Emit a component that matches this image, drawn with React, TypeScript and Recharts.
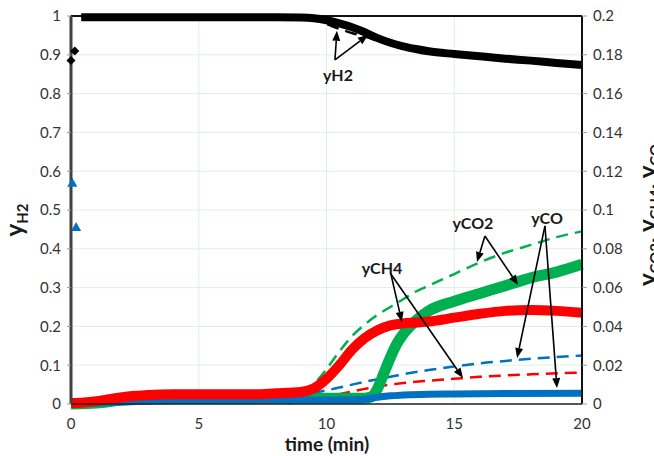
import React from 'react';
import {
  ComposedChart,
  Line,
  XAxis,
  YAxis,
  CartesianGrid,
  ReferenceLine,
  ReferenceDot,
} from 'recharts';

// ---------- tick labels ----------
const xTicks = [0, 5, 10, 15, 20];
const leftTicks = [0, 0.1, 0.2, 0.3, 0.4, 0.5, 0.6, 0.7, 0.8, 0.9, 1];
const rightTicks = [0, 0.02, 0.04, 0.06, 0.08, 0.1, 0.12, 0.14, 0.16, 0.18, 0.2];

// ---------- yH2 (left axis) ----------
const h2Time = [0.4, 1, 2, 3, 4, 5, 6, 7, 8, 9, 9.5, 10, 10.5, 11, 11.5, 12, 12.5, 13, 13.5, 14, 15, 16, 17, 18, 19, 20];
const h2Data = [0.997, 0.997, 0.997, 0.997, 0.997, 0.997, 0.997, 0.997, 0.997, 0.996, 0.994, 0.989, 0.981, 0.971, 0.958, 0.943, 0.931, 0.922, 0.915, 0.909, 0.902, 0.896, 0.89, 0.885, 0.879, 0.874];
const h2OutTime = [0, 0.15];
const h2OutData = [0.885, 0.91];
const h2ModelTime = [0.4, 5, 9, 9.5, 10, 10.5, 11, 11.5, 12, 12.5, 13, 14, 15, 16, 17, 18, 19, 20];
const h2Model = [0.998, 0.998, 0.995, 0.99, 0.979, 0.967, 0.956, 0.947, 0.937, 0.928, 0.92, 0.91, 0.902, 0.896, 0.89, 0.885, 0.879, 0.874];

// ---------- yCO2 (right axis) ----------
const co2Time = [0, 1, 2, 3, 5, 8, 10, 11, 11.5, 11.8, 12, 12.25, 12.5, 12.75, 13, 13.5, 14, 15, 16, 17, 18, 19, 20];
const co2Data = [0, 0.0005, 0.002, 0.003, 0.003, 0.003, 0.003, 0.003, 0.003, 0.004, 0.008, 0.016, 0.024, 0.031, 0.036, 0.043, 0.048, 0.053, 0.057, 0.061, 0.065, 0.068, 0.072];
const co2ModelTime = [8.5, 9, 9.5, 10, 10.5, 11, 11.5, 12, 12.5, 13, 13.5, 14, 15, 16, 17, 18, 19, 20];
const co2Model = [0, 0.004, 0.01, 0.018, 0.027, 0.035, 0.041, 0.046, 0.05, 0.054, 0.058, 0.061, 0.067, 0.073, 0.078, 0.082, 0.086, 0.089];

// ---------- yCH4 (right axis) ----------
const ch4Time = [0, 0.5, 1, 1.5, 2, 2.5, 3, 4, 5, 6, 7, 8, 9, 9.5, 10, 10.5, 11, 11.5, 12, 12.5, 13, 13.5, 14, 15, 16, 17, 18, 19, 20];
const ch4Data = [0.0005, 0.0008, 0.0015, 0.0025, 0.0035, 0.0042, 0.0047, 0.005, 0.005, 0.005, 0.005, 0.0055, 0.0062, 0.008, 0.013, 0.02, 0.028, 0.034, 0.038, 0.0405, 0.0415, 0.042, 0.0425, 0.0445, 0.0465, 0.048, 0.0485, 0.048, 0.047];
const ch4ModelTime = [9, 9.5, 10, 10.5, 11, 11.5, 12, 13, 14, 15, 16, 17, 18, 19, 20];
const ch4Model = [0.001, 0.002, 0.0035, 0.005, 0.0065, 0.0078, 0.009, 0.0108, 0.012, 0.013, 0.014, 0.0147, 0.0153, 0.0158, 0.0162];

// ---------- yCO (right axis) ----------
const coTime = [0, 1, 2, 3, 5, 8, 10, 11, 11.5, 12, 12.5, 13, 14, 15, 17, 20];
const coData = [0, 0.0005, 0.001, 0.0015, 0.0018, 0.002, 0.002, 0.0022, 0.0025, 0.0035, 0.0042, 0.0047, 0.005, 0.0052, 0.0054, 0.0055];
const coOutTime = [0.05, 0.2];
const coOutData = [0.114, 0.0912];
const coModelTime = [8, 8.5, 9, 9.5, 10, 10.5, 11, 11.5, 12, 12.5, 13, 13.5, 14, 15, 16, 17, 18, 19, 20];
const coModel = [0.002, 0.003, 0.004, 0.0057, 0.007, 0.0085, 0.01, 0.0115, 0.0128, 0.014, 0.0153, 0.0165, 0.0175, 0.0193, 0.021, 0.0222, 0.0233, 0.0242, 0.025];

// ---------- annotations (data coordinates) ----------
const noteLabels = [
  { text: 'yH2', t: 10.45, v: 0.85, axis: 'left' },
  { text: 'yCO2', t: 15.73, v: 0.0933, axis: 'right' },
  { text: 'yCO', t: 18.63, v: 0.0959, axis: 'right' },
  { text: 'yCH4', t: 12.17, v: 0.0706, axis: 'right' },
];
const noteArrows = [
  { axis: 'left', t1: 10.33, v1: 0.887, t2: 10.41, v2: 0.962 },
  { axis: 'left', t1: 10.33, v1: 0.887, t2: 11.62, v2: 0.951 },
  { axis: 'right', t1: 16.2, v1: 0.0866, t2: 15.89, v2: 0.0732 },
  { axis: 'right', t1: 16.2, v1: 0.0866, t2: 17.5, v2: 0.0613 },
  { axis: 'right', t1: 18.55, v1: 0.0918, t2: 17.46, v2: 0.0237 },
  { axis: 'right', t1: 18.55, v1: 0.0918, t2: 19.02, v2: 0.0082 },
  { axis: 'right', t1: 12.52, v1: 0.067, t2: 12.95, v2: 0.0423 },
  { axis: 'right', t1: 12.52, v1: 0.067, t2: 15.34, v2: 0.0134 },
];

const zip = (t: number[], v: number[]) => t.map((x, i) => ({ t: x, v: v[i] }));

const FONT = 'Lato, "Open Sans", sans-serif';

const Diamond = (p: any) => {
  const { cx, cy } = p;
  if (cx == null || cy == null) return null;
  const s = 4.5;
  return <polygon key={`d${cx}-${cy}`} points={`${cx},${cy - s} ${cx + s},${cy} ${cx},${cy + s} ${cx - s},${cy}`} fill="#000" />;
};

const Triangle = (p: any) => {
  const { cx, cy } = p;
  if (cx == null || cy == null) return null;
  const s = 5;
  return <polygon key={`tr${cx}-${cy}`} points={`${cx},${cy - s} ${cx + s},${cy + s * 0.8} ${cx - s},${cy + s * 0.8}`} fill="#0070c0" />;
};

const ArrowShape = (p: any) => {
  const { x1, y1, x2, y2 } = p;
  if ([x1, y1, x2, y2].some((n) => n == null || isNaN(n))) return null;
  const ang = Math.atan2(y2 - y1, x2 - x1);
  const L = 10;
  const W = 4;
  const bx = x2 - L * Math.cos(ang);
  const by = y2 - L * Math.sin(ang);
  const px = -Math.sin(ang) * W;
  const py = Math.cos(ang) * W;
  return (
    <g>
      <line x1={x1} y1={y1} x2={bx} y2={by} stroke="#000" strokeWidth={1.6} />
      <polygon points={`${x2},${y2} ${bx + px},${by + py} ${bx - px},${by - py}`} fill="#000" />
    </g>
  );
};

const makeLabelShape = (text: string) => (p: any) => {
  const { cx, cy } = p;
  return (
    <text x={cx} y={cy} textAnchor="middle" dominantBaseline="central" fontFamily={FONT} fontSize={16} fontWeight={700} fill="#1a1a1a">
      {text}
    </text>
  );
};

const LeftTitle = () => (
  <text transform="translate(23,220) rotate(-90)" textAnchor="middle" fontFamily={FONT} fontWeight={700} fill="#1a1a1a">
    <tspan fontSize={24}>y</tspan>
    <tspan fontSize={15} dy={5}>H2</tspan>
  </text>
);

const RightTitle = () => (
  <text transform="translate(656,215) rotate(-90)" textAnchor="middle" fontFamily={FONT} fontWeight={700} fill="#1a1a1a">
    <tspan fontSize={24}>y</tspan>
    <tspan fontSize={15} dy={5}>CO2</tspan>
    <tspan fontSize={24} dy={-5}>, y</tspan>
    <tspan fontSize={15} dy={5}>CH4</tspan>
    <tspan fontSize={24} dy={-5}>, y</tspan>
    <tspan fontSize={15} dy={5}>CO</tspan>
  </text>
);

const XTitle = () => (
  <text x={327} y={451} textAnchor="middle" fontFamily={FONT} fontSize={19} fontWeight={700} fill="#1a1a1a">
    time (min)
  </text>
);

const tickStyle = { fontSize: 15, fill: '#333', fontFamily: FONT };

export default function App() {
  return (
    <div style={{ position: 'absolute', left: 0, top: 0, width: 654, height: 456, background: '#fff' }}>
      <ComposedChart width={654} height={456} margin={{ top: 16, right: 0, bottom: 0, left: 0 }} style={{ fontFamily: FONT }}>
        <CartesianGrid yAxisId="left" stroke="#dcefe8" strokeWidth={1} />
        <XAxis
          type="number"
          dataKey="t"
          domain={[0, 20]}
          ticks={xTicks}
          height={52}
          tick={tickStyle}
          tickLine={false}
          axisLine={{ stroke: '#222', strokeWidth: 1.5 }}
          tickMargin={8}
          label={<XTitle />}
        />
        <YAxis
          yAxisId="left"
          type="number"
          domain={[0, 1]}
          ticks={leftTicks}
          width={71}
          tick={tickStyle}
          tickSize={4}
          tickLine={{ stroke: '#999' }}
          axisLine={{ stroke: '#404040', strokeWidth: 3 }}
          tickMargin={6}
          label={<LeftTitle />}
        />
        <YAxis
          yAxisId="right"
          orientation="right"
          type="number"
          domain={[0, 0.2]}
          ticks={rightTicks}
          width={72}
          tick={tickStyle}
          tickSize={5}
          tickLine={{ stroke: '#999' }}
          axisLine={{ stroke: '#111', strokeWidth: 2 }}
          tickMargin={6}
          label={<RightTitle />}
        />
        <ReferenceLine yAxisId="left" y={1} stroke="#111" strokeWidth={2} />

        {/* model (dashed) curves */}
        <Line yAxisId="left" data={zip(h2ModelTime, h2Model)} dataKey="v" type="monotone" stroke="#000" strokeWidth={2.5} strokeDasharray="12 7" dot={false} isAnimationActive={false} />
        <Line yAxisId="right" data={zip(co2ModelTime, co2Model)} dataKey="v" type="monotone" stroke="#00b050" strokeWidth={2.5} strokeDasharray="12 7" dot={false} isAnimationActive={false} />
        <Line yAxisId="right" data={zip(coModelTime, coModel)} dataKey="v" type="monotone" stroke="#0070c0" strokeWidth={2.5} strokeDasharray="12 7" dot={false} isAnimationActive={false} />
        <Line yAxisId="right" data={zip(ch4ModelTime, ch4Model)} dataKey="v" type="monotone" stroke="#ff0000" strokeWidth={2.5} strokeDasharray="12 7" dot={false} isAnimationActive={false} />

        {/* experimental data (dense markers) */}
        <Line yAxisId="left" data={zip(h2Time, h2Data)} dataKey="v" type="monotone" stroke="#000" strokeWidth={8} dot={false} isAnimationActive={false} />
        <Line yAxisId="left" data={zip(h2OutTime, h2OutData)} dataKey="v" stroke="none" dot={<Diamond />} isAnimationActive={false} />
        <Line yAxisId="right" data={zip(co2Time, co2Data)} dataKey="v" type="monotone" stroke="#00b050" strokeWidth={11} dot={false} isAnimationActive={false} />
        <Line yAxisId="right" data={zip(coTime, coData)} dataKey="v" type="monotone" stroke="#0070c0" strokeWidth={7} dot={false} isAnimationActive={false} />
        <Line yAxisId="right" data={zip(coOutTime, coOutData)} dataKey="v" stroke="none" dot={<Triangle />} isAnimationActive={false} />
        <Line yAxisId="right" data={zip(ch4Time, ch4Data)} dataKey="v" type="monotone" stroke="#ff0000" strokeWidth={10} dot={false} isAnimationActive={false} />

        {/* annotations */}
        {noteArrows.map((a, i) => (
          <ReferenceLine
            key={`a${i}`}
            yAxisId={a.axis}
            segment={[{ x: a.t1, y: a.v1 }, { x: a.t2, y: a.v2 }]}
            shape={ArrowShape}
          />
        ))}
        {noteLabels.map((l, i) => (
          <ReferenceDot key={`l${i}`} yAxisId={l.axis} x={l.t} y={l.v} r={0} shape={makeLabelShape(l.text)} />
        ))}
      </ComposedChart>
    </div>
  );
}
